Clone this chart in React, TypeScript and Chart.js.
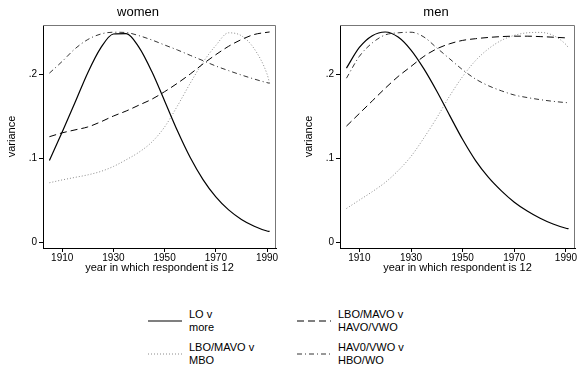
import React, { useEffect, useRef } from "react";
import { Chart, registerables } from "chart.js";
Chart.register(...registerables);

const YEARS = [1905, 1910, 1915, 1920, 1925, 1930, 1935, 1940, 1945, 1950, 1955, 1960, 1965, 1970, 1975, 1980, 1985, 1990, 1991];
const X_TICKS = [1910, 1930, 1950, 1970, 1990];
const Y_TICKS = [0, 0.1, 0.2];
const Y_TICK_LABELS = ["0", ".1", ".2"];
const PANEL_TITLES = ["women", "men"];
const SERIES_LABELS = [["LO v", "more"], ["LBO/MAVO v", "HAVO/VWO"], ["LBO/MAVO v", "MBO"], ["HAV0/VWO v", "HBO/WO"]];

const WOMEN_LO = [0.097, 0.131, 0.166, 0.2016, 0.2308, 0.2476, 0.248, 0.2317, 0.2029, 0.1679, 0.1324, 0.1006, 0.0744, 0.0538, 0.0383, 0.027, 0.0189, 0.0132, 0.0127];
const WOMEN_LBO_HAVO = [0.1254, 0.13, 0.1335, 0.137, 0.143, 0.15, 0.156, 0.163, 0.17, 0.179, 0.189, 0.2, 0.212, 0.223, 0.233, 0.241, 0.247, 0.2496, 0.25];
const WOMEN_LBO_MBO = [0.0706, 0.074, 0.077, 0.08, 0.084, 0.09, 0.098, 0.107, 0.119, 0.137, 0.162, 0.189, 0.214, 0.234, 0.249, 0.2455, 0.23, 0.2, 0.189];
const WOMEN_HAVO_HBO = [0.201, 0.215, 0.23, 0.241, 0.2475, 0.2497, 0.2493, 0.2456, 0.2405, 0.2345, 0.2286, 0.2222, 0.2159, 0.2095, 0.204, 0.1988, 0.194, 0.1897, 0.189];

const MEN_LO = [0.207, 0.2316, 0.2456, 0.25, 0.244, 0.2285, 0.2061, 0.1795, 0.1505, 0.122, 0.097, 0.077, 0.061, 0.0475, 0.037, 0.0284, 0.0215, 0.0165, 0.016];
const MEN_LBO_HAVO = [0.138, 0.153, 0.168, 0.183, 0.197, 0.209, 0.221, 0.23, 0.236, 0.24, 0.242, 0.2435, 0.2445, 0.245, 0.245, 0.2445, 0.2438, 0.243, 0.2428];
const MEN_LBO_MBO = [0.04, 0.05, 0.06, 0.071, 0.085, 0.102, 0.124, 0.148, 0.174, 0.197, 0.216, 0.23, 0.24, 0.246, 0.249, 0.2495, 0.246, 0.235, 0.231];
const MEN_HAVO_HBO = [0.195, 0.221, 0.237, 0.2465, 0.249, 0.2497, 0.244, 0.231, 0.218, 0.205, 0.194, 0.186, 0.18, 0.175, 0.172, 0.1695, 0.1675, 0.166, 0.1658];

const FONT = "'Liberation Sans', Arial, Helvetica, sans-serif";
const STYLES = [
  { color: "#000", width: 1.2, dash: [] as number[] },
  { color: "#000", width: 1, dash: [7, 4] },
  { color: "#8a8a8a", width: 1, dash: [1, 2] },
  { color: "#333", width: 1, dash: [5, 3, 1, 3] },
];

const outlinePlugin = {
  id: "outline",
  afterDatasetsDraw(chart: any) {
    const { ctx, chartArea: a } = chart;
    ctx.save();
    ctx.strokeStyle = "#777";
    ctx.lineWidth = 1;
    ctx.beginPath();
    ctx.moveTo(a.left, a.top + 0.5);
    ctx.lineTo(a.right - 0.5, a.top + 0.5);
    ctx.lineTo(a.right - 0.5, a.bottom);
    ctx.stroke();
    ctx.restore();
  },
};

function Panel({ title, series, left, width, padRight }: { title: string; series: number[][]; left: number; width: number; padRight: number }) {
  const ref = useRef<HTMLCanvasElement | null>(null);
  useEffect(() => {
    if (!ref.current) return;
    const chart = new Chart(ref.current, {
      type: "line",
      data: {
        datasets: series.map((vals, i) => ({
          label: SERIES_LABELS[i].join(" "),
          data: YEARS.map((y, j) => ({ x: y, y: vals[j] })),
          borderColor: STYLES[i].color,
          borderWidth: STYLES[i].width,
          borderDash: STYLES[i].dash,
          pointRadius: 0,
          fill: false,
          cubicInterpolationMode: "monotone" as const,
        })),
      },
      options: {
        animation: false,
        responsive: false,
        devicePixelRatio: 1,
        layout: { padding: { left: 0, right: padRight, top: 0, bottom: 15 } },
        plugins: {
          legend: { display: false },
          tooltip: { enabled: false },
          title: {
            display: true,
            text: title,
            color: "#000",
            font: { family: FONT, size: 13, weight: "normal" },
            padding: { top: 5, bottom: 4.4 },
          },
        },
        scales: {
          x: {
            type: "linear",
            min: 1902.5,
            max: 1993.5,
            afterBuildTicks: (s: any) => { s.ticks = X_TICKS.map((v) => ({ value: v })); },
            afterFit: (s: any) => { s.height = 27; },
            ticks: {
              color: "#000",
              font: { family: FONT, size: 10 },
              padding: 0,
              maxRotation: 0,
              autoSkip: false,
              callback: (v: any) => String(v),
            },
            grid: { display: true, drawOnChartArea: false, drawTicks: true, tickLength: 4, color: "#000" },
            border: { display: true, color: "#000", width: 1 },
            title: { display: true, text: "year in which respondent is 12", color: "#000", font: { family: FONT, size: 11 }, padding: 0 },
          },
          y: {
            type: "linear",
            min: -0.007,
            max: 0.2583,
            afterBuildTicks: (s: any) => { s.ticks = Y_TICKS.map((v) => ({ value: v })); },
            afterFit: (s: any) => { s.width = 43; },
            ticks: {
              color: "#000",
              font: { family: FONT, size: 10 },
              padding: 2,
              autoSkip: false,
              callback: (v: any) => { const k = Y_TICKS.indexOf(Number(v)); return k >= 0 ? Y_TICK_LABELS[k] : ""; },
            },
            grid: { display: true, drawOnChartArea: false, drawTicks: true, tickLength: 4, color: "#000" },
            border: { display: true, color: "#000", width: 1 },
            title: { display: true, text: "variance", color: "#000", font: { family: FONT, size: 11 }, padding: { top: 5, bottom: 0 } },
          },
        },
      },
      plugins: [outlinePlugin],
    } as any);
    return () => chart.destroy();
  }, []);
  return (
    <canvas ref={ref} width={width} height={290} style={{ position: "absolute", left, top: 0, width, height: 290 }} />
  );
}

function LegendItem({ i, x, y }: { i: number; x: number; y: number }) {
  const st = STYLES[i];
  return (
    <>
      <svg width={34} height={4} style={{ position: "absolute", left: x, top: y + 11 }}>
        <line x1={0} y1={2} x2={34} y2={2} stroke={st.color} strokeWidth={st.width} strokeDasharray={st.dash.length ? st.dash.join(" ") : undefined} />
      </svg>
      <div style={{ position: "absolute", left: x + 41, top: y, fontFamily: FONT, fontSize: 11, lineHeight: "13px", color: "#000", whiteSpace: "nowrap" }}>
        {SERIES_LABELS[i][0]}
        <br />
        {SERIES_LABELS[i][1]}
      </div>
    </>
  );
}

export default function App() {
  return (
    <div style={{ position: "absolute", left: 0, top: 0, width: 578, height: 371, background: "#fff", overflow: "hidden" }}>
      <Panel title={PANEL_TITLES[0]} series={[WOMEN_LO, WOMEN_LBO_HAVO, WOMEN_LBO_MBO, WOMEN_HAVO_HBO]} left={0} width={289} padRight={13} />
      <Panel title={PANEL_TITLES[1]} series={[MEN_LO, MEN_LBO_HAVO, MEN_LBO_MBO, MEN_HAVO_HBO]} left={297} width={281} padRight={3} />
      <LegendItem i={0} x={148} y={308} />
      <LegendItem i={1} x={297} y={308} />
      <LegendItem i={2} x={148} y={341} />
      <LegendItem i={3} x={297} y={341} />
    </div>
  );
}
